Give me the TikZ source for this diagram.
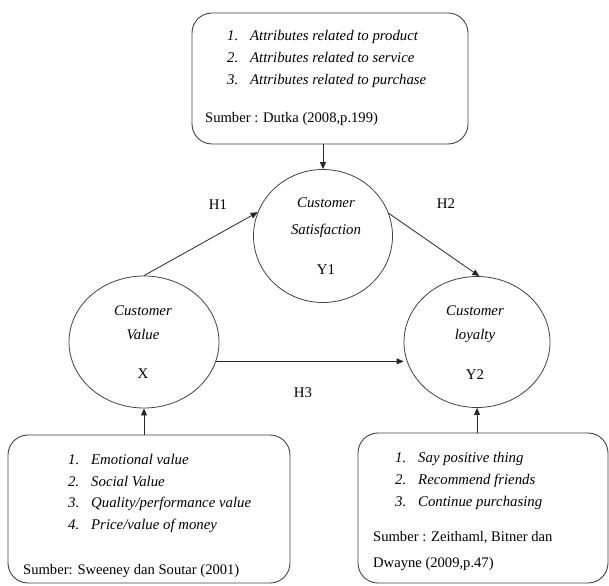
\documentclass[tikz,border=0pt]{standalone}
\usepackage{fontspec}
\setmainfont{Liberation Serif}
\usetikzlibrary{shapes.geometric,arrows.meta}
\begin{document}
\begin{tikzpicture}[x=1pt,y=-1pt,
  box/.style={draw=black!75, line width=0.9pt, rounded corners=20pt, inner sep=0pt},
  var/.style={draw=black!75, line width=0.8pt, ellipse, inner sep=0pt},
  itm/.style={font=\fontsize{14.8}{16}\selectfont\itshape, anchor=base west, inner sep=0pt},
  src/.style={font=\fontsize{14.6}{16}\selectfont, anchor=base west, inner sep=0pt},
  ctr/.style={font=\fontsize{14.8}{16}\selectfont, inner sep=0pt, anchor=base},
  ctri/.style={ctr, font=\fontsize{14.8}{16}\selectfont\itshape},
  conn/.style={draw=black!85, line width=0.8pt, -{Triangle[length=7pt,width=6pt]}}
]
\useasboundingbox (0,0) rectangle (609,585);

% boxes
\node[box, minimum width=276pt, minimum height=131pt] (top) at (330,78.5) {};
\node[box, minimum width=282pt, minimum height=148pt] (bl) at (149,509) {};
\node[box, minimum width=250pt, minimum height=150pt] (br) at (483,508) {};

% variables
\node[var, minimum width=139pt, minimum height=133pt] (Y1) at (323,236) {};
\node[var, minimum width=150pt, minimum height=132pt] (X) at (144,342) {};
\node[var, minimum width=146pt, minimum height=131pt] (Y2) at (477,342) {};

% top box text
\node[itm] (t1n) at (227,40.5) {1.};
\node[itm] (t1) at (250,40.5) {Attributes related to product};
\node[itm] (t2n) at (227,62.5) {2.};
\node[itm] (t2) at (250,62.5) {Attributes related to service};
\node[itm] (t3n) at (227,84.5) {3.};
\node[itm] (t3) at (250,84.5) {Attributes related to purchase};
\node[src] (ts) at (205,122.5) {Sumber : Dutka (2008,p.199)};

% bottom-left text
\node[itm] (b1n) at (68,464.5) {1.};
\node[itm] (b1) at (91,464.5) {Emotional value};
\node[itm] (b2n) at (68,486.5) {2.};
\node[itm] (b2) at (91,486.5) {Social Value};
\node[itm] (b3n) at (68,507.5) {3.};
\node[itm] (b3) at (91,507.5) {Quality/performance value};
\node[itm] (b4n) at (68,529.5) {4.};
\node[itm] (b4) at (91,529.5) {Price/value of money};
\node[src] (bs) at (23,574.5) {Sumber: Sweeney dan Soutar (2001)};

% bottom-right text
\node[itm] (r1n) at (395,462.5) {1.};
\node[itm] (r1) at (418,462.5) {Say positive  thing};
\node[itm] (r2n) at (395,484.5) {2.};
\node[itm] (r2) at (418,484.5) {Recommend friends};
\node[itm] (r3n) at (395,506.5) {3.};
\node[itm] (r3) at (418,506.5) {Continue purchasing};
\node[src] (rs1) at (373,541.5) {Sumber : Zeithaml, Bitner dan};
\node[src] (rs2) at (373,567.5) {Dwayne (2009,p.47)};

% variable labels
\node[ctri] (y1a) at (326,207.5) {Customer};
\node[ctri] (y1b) at (326,234.5) {Satisfaction};
\node[ctr] (y1c) at (326,274.5) {Y1};
\node[ctri] (xa) at (143,315.5) {Customer};
\node[ctri] (xb) at (143,339.5) {Value};
\node[ctr] (xc) at (143,378.5) {X};
\node[ctri] (y2a) at (475,315.5) {Customer};
\node[ctri] (y2b) at (475,339.5) {loyalty};
\node[ctr] (y2c) at (475,379.5) {Y2};

% hypothesis labels
\node[ctr] (h1) at (218,209.5) {H1};
\node[ctr] (h2) at (446,208.5) {H2};
\node[ctr] (h3) at (303,397.5) {H3};

% connectors
\draw[conn] (top.south -| Y1.north) -- (Y1.north);
\draw[conn] (X.north) -- (Y1.160);
\draw[conn] (Y1.19) -- (Y2.88);
\draw[conn] (X.-15) -- (X.-15 -| Y2.west);
\draw[conn] (bl.north -| X.south) -- (X.south);
\draw[conn] (br.north -| Y2.south) -- (Y2.south);
\end{tikzpicture}
\end{document}
